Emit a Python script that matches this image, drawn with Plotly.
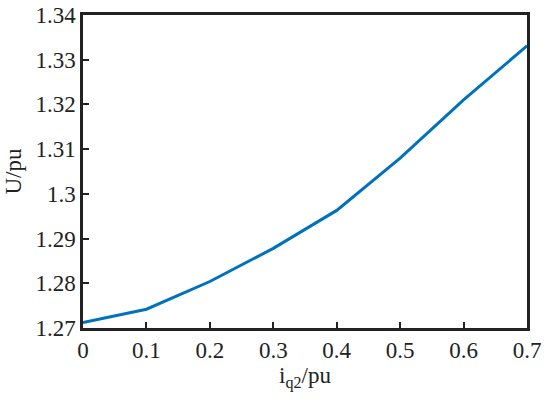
import plotly.graph_objects as go

iq2 = [0, 0.1, 0.2, 0.3, 0.4, 0.5, 0.6, 0.7]
U = [1.2712, 1.2742, 1.2804, 1.2878, 1.2963, 1.3080, 1.3210, 1.3331]
xticks = [0, 0.1, 0.2, 0.3, 0.4, 0.5, 0.6, 0.7]
xticklabels = ["0", "0.1", "0.2", "0.3", "0.4", "0.5", "0.6", "0.7"]
yticks = [1.27, 1.28, 1.29, 1.30, 1.31, 1.32, 1.33, 1.34]
yticklabels = ["1.27", "1.28", "1.29", "1.3", "1.31", "1.32", "1.33", "1.34"]

font = "Liberation Serif, Times New Roman, serif"

fig = go.Figure(go.Scatter(x=iq2, y=U, mode="lines",
                           line=dict(color="#0072BD", width=3)))

fig.update_layout(
    width=550, height=403,
    margin=dict(l=83, r=23, t=15, b=75),
    paper_bgcolor="white", plot_bgcolor="white",
    showlegend=False,
    font=dict(family=font, size=23, color="#222222"),
)
fig.update_xaxes(
    range=[0, 0.7], tickvals=xticks, ticktext=xticklabels,
    showline=True, linecolor="#222222", linewidth=2.5, mirror=True,
    ticks="inside", ticklen=6, tickwidth=2, tickcolor="#222222",
    showgrid=False, zeroline=False, automargin=False,
    title=dict(text="i<sub>q2</sub>/pu", font=dict(family=font, size=23), standoff=4),
)
fig.update_yaxes(
    range=[1.27, 1.34], tickvals=yticks, ticktext=yticklabels,
    showline=True, linecolor="#222222", linewidth=2.5, mirror=True,
    ticks="inside", ticklen=6, tickwidth=2, tickcolor="#222222",
    showgrid=False, zeroline=False, ticklabelstandoff=0, automargin=False,
    title=dict(text="U/pu", font=dict(family=font, size=23), standoff=8),
)

fig.write_html("out.html",
               config={"displayModeBar": False},
               post_script="document.body.style.margin='0';document.body.style.padding='0';")
